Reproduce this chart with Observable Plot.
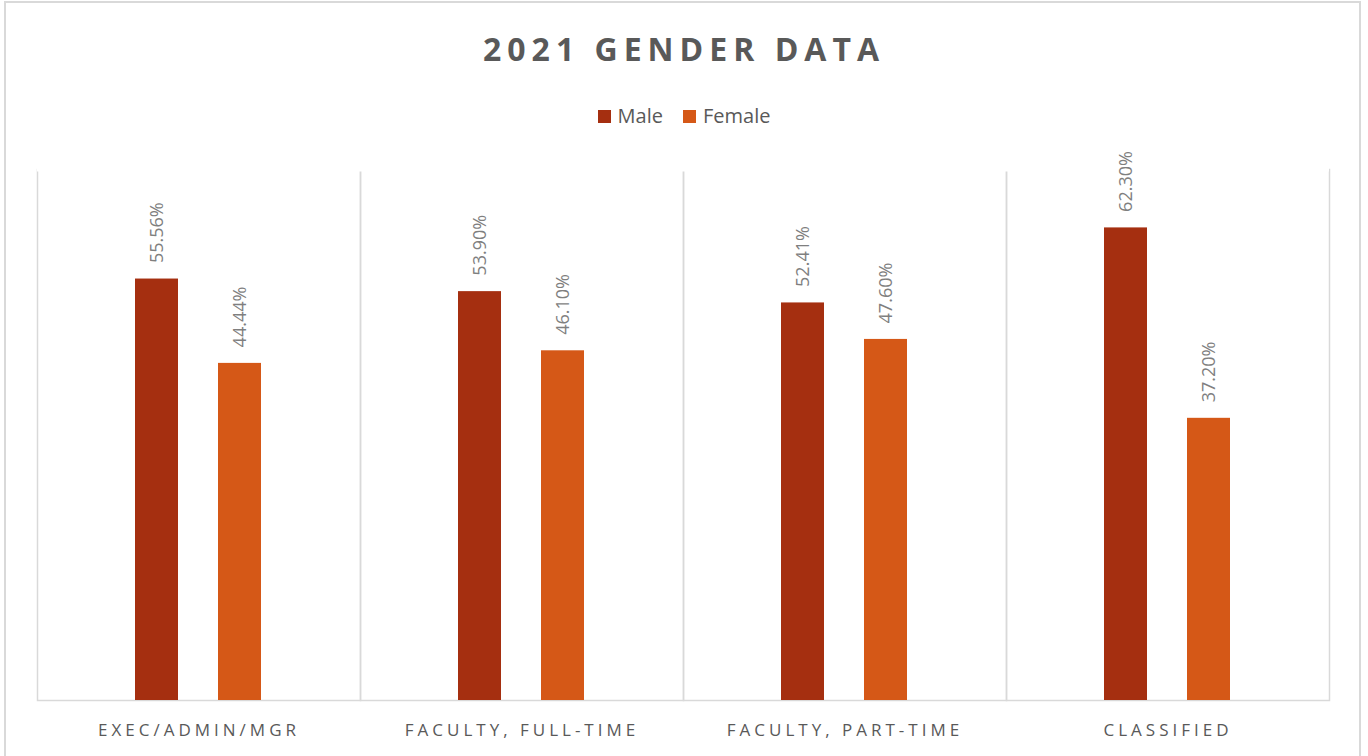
<!DOCTYPE html>
<html>
<head>
<meta charset="utf-8">
<script src="https://cdn.jsdelivr.net/npm/d3@7"></script>
<script src="https://cdn.jsdelivr.net/npm/@observablehq/plot@0.6"></script>
<style>
  html, body { margin: 0; padding: 0; background: #fff; }
  #wrap { position: relative; width: 1368px; height: 756px; overflow: hidden; background: #fff; font-family: "Open Sans", sans-serif; }
  #border { position: absolute; left: 4px; top: 1px; width: 1357px; height: 820px; border: 2px solid #d9d9d9; box-sizing: border-box; }
  #title { position: absolute; left: 0; top: 33px; width: 1368px; text-align: center; font-size: 32px; line-height: 31px; font-weight: 700; color: #595959; letter-spacing: 6px; white-space: nowrap; }
  #legend { position: absolute; left: 0; top: 106px; width: 1368px; display: flex; justify-content: center; align-items: center; font-size: 20px; line-height: 20px; color: #595959; }
  .item { display: flex; align-items: center; margin: 0 10px; }
  .sw { width: 13px; height: 13px; margin-right: 7px; }
  #chart { position: absolute; left: 0; top: 140px; }
</style>
</head>
<body>
<div id="wrap">
  <div id="border"></div>
  <div id="title"></div>
  <div id="legend"></div>
  <div id="chart"></div>
</div>
<script>
const titleText = "2021 GENDER DATA";
const categories = ["EXEC/ADMIN/MGR", "FACULTY, FULL-TIME", "FACULTY, PART-TIME", "CLASSIFIED"];
const genders = ["Male", "Female"];
const maleValues = [55.56, 53.90, 52.41, 62.30];
const femaleValues = [44.44, 46.10, 47.60, 37.20];
const colors = ["#A52F10", "#D55817"];

const data = [];
categories.forEach((c, i) => {
  data.push({category: c, gender: "Male", value: maleValues[i]});
  data.push({category: c, gender: "Female", value: femaleValues[i]});
});

document.getElementById("title").textContent = titleText;
const legend = d3.select("#legend");
genders.forEach((g, i) => {
  const it = legend.append("div").attr("class", "item");
  it.append("div").attr("class", "sw").style("background", colors[i]);
  it.append("span").text(g);
});

const chart = Plot.plot({
  width: 1368,
  height: 616,
  marginTop: 29,
  marginBottom: 56,
  marginLeft: 35,
  marginRight: 38,
  style: {fontFamily: "Open Sans, sans-serif", fontSize: "17px", color: "#595959", background: "transparent", overflow: "visible"},
  fx: {domain: categories, padding: 0, label: null, axis: "bottom", tickSize: 0, tickPadding: 23},
  x: {domain: genders, paddingInner: 0.476, paddingOuter: 1.167, axis: null},
  y: {domain: [0, 70], axis: null},
  color: {domain: genders, range: colors},
  marks: [
    Plot.frame({stroke: "#d9d9d9", strokeWidth: 1.5}),
    Plot.ruleY([70], {stroke: "white", strokeWidth: 4}),
    Plot.barY(data, {fx: "category", x: "gender", y: "value", fill: "gender"}),
    Plot.text(data, {
      fx: "category", x: "gender", y: "value",
      text: d => d.value.toFixed(2) + "%",
      rotate: -90, textAnchor: "start", dy: -16,
      fill: "#7f7f7f", fontSize: 18
    })
  ]
});
document.getElementById("chart").appendChild(chart);
d3.select(chart).selectAll('g[aria-label="fx-axis tick label"] text').style("letter-spacing", "4px");
</script>
</body>
</html>
